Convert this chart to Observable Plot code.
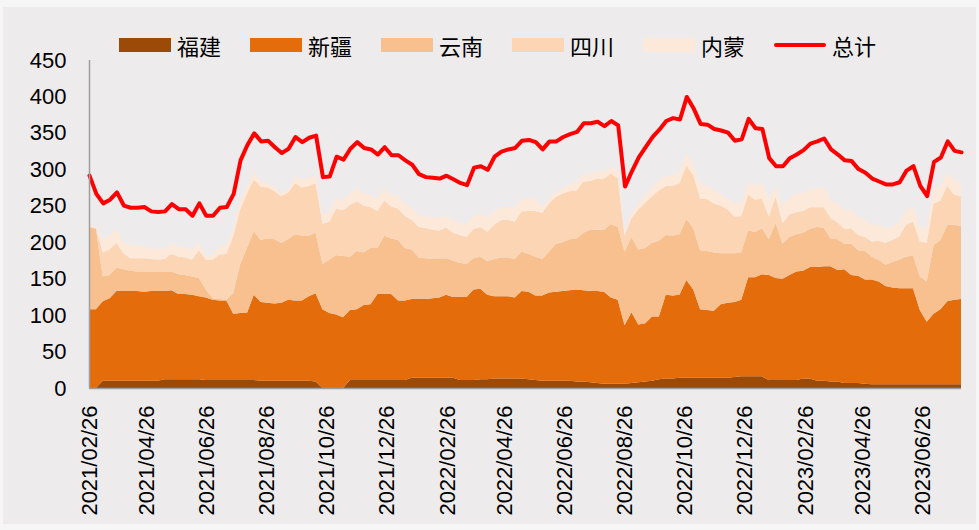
<!DOCTYPE html>
<html><head><meta charset="utf-8">
<script src="https://cdn.jsdelivr.net/npm/d3@7"></script>
<script src="https://cdn.jsdelivr.net/npm/@observablehq/plot@0.6"></script>
<style>
html,body{margin:0;padding:0;background:#f6f6f6;}
#wrap{position:relative;width:979px;height:530px;overflow:hidden;}
#panel{position:absolute;left:3px;top:7px;width:973px;height:517px;background:#edebeb;}
#legend{position:absolute;left:119px;top:32px;display:flex;align-items:center;height:26px;font-family:"Noto Sans CJK SC",sans-serif;font-size:22px;color:#000;}
.item{display:flex;align-items:center;width:131px;}
.sw{width:52px;height:14px;margin-right:6px;}
.ln{width:52px;height:4px;background:#ff0000;margin-right:6px;border-radius:2px;}
#chart{position:absolute;left:0;top:0;}
</style></head><body>
<div id="wrap"><div id="panel"></div><div id="legend"></div><div id="chart"></div></div>
<script>
const startDate = "2021/02/26";
const seriesNames = ["福建","新疆","云南","四川","内蒙"];
const seriesColors = ["#9b4a07","#e46c0a","#f9c08f","#fbd5b4","#fde9da"];
const totalName = "总计";
const tickLabels = ["2021/02/26","2021/04/26","2021/06/26","2021/08/26","2021/10/26","2021/12/26","2022/02/26","2022/04/26","2022/06/26","2022/08/26","2022/10/26","2022/12/26","2023/02/26","2023/04/26","2023/06/26"];
const yTicks = [0,50,100,150,200,250,300,350,400,450];

const fujian = [
0,0,10,10,10,10,10,10,10,10,
10,12,12,12,12,12,12,11,11,11,
11,11,11,11,11,10,10,10,10,10,
10,10,10,9,0,0,0,0,11,11,
11,11,11,11,11,11,11,14,14,14,
14,14,14,14,11,11,11,12,12,13,
13,13,13,13,12,11,10,10,10,10,
10,9,9,8,7,6,6,6,6,7,
8,9,10,12,13,13,14,14,14,14,
14,14,14,14,15,16,16,16,16,11,
11,11,11,11,13,13,10,10,9,9,
7,7,7,6,5,5,5,5,5,5,
5,5,5,5,5,5,5,5];
const xinjiang = [
108,108,109,113,123,123,123,123,122,123,
123,121,122,117,117,116,114,113,110,109,
109,91,92,92,117,108,107,106,107,111,
110,110,116,121,108,103,101,97,96,97,
103,104,118,118,118,109,109,108,108,108,
109,110,114,111,114,114,124,124,116,113,
113,113,111,120,120,116,117,121,122,123,
124,126,125,125,126,126,118,115,80,97,
79,80,88,86,115,114,114,134,121,94,
93,92,101,103,103,105,136,136,140,144,
140,139,144,149,148,153,156,157,158,153,
156,148,147,143,144,141,135,133,132,132,
132,102,86,97,103,114,116,117];
const yunnan = [
113,110,34,32,32,30,28,27,28,26,
26,27,26,27,26,25,25,11,2,2,
1,28,66,89,87,85,88,88,82,83,
91,89,83,83,62,73,81,84,73,80,
72,77,63,80,76,83,72,68,57,56,
54,53,50,50,47,45,43,44,46,51,
53,53,53,54,52,53,50,56,66,67,
70,70,79,84,84,85,101,100,101,103,
103,103,101,104,82,82,83,84,84,81,
81,80,70,68,67,65,64,62,63,49,
75,48,52,51,52,52,55,53,38,42,
35,43,35,39,31,30,29,35,39,43,
45,46,55,94,95,105,103,100];
const sichuan = [
0,2,33,35,34,22,17,18,18,18,
17,17,24,24,24,23,38,41,53,61,
63,78,75,75,71,73,70,66,64,64,
70,66,68,68,55,52,64,63,71,68,
64,56,51,48,44,43,44,41,42,41,
40,39,42,38,38,37,40,41,40,47,
51,52,51,55,59,63,63,66,64,67,
66,66,70,67,70,70,69,67,22,26,
55,62,64,69,67,68,70,73,73,71,
71,67,65,60,50,50,49,44,41,31,
36,28,31,30,30,30,27,28,28,23,
20,21,21,19,21,26,30,30,32,44,
46,48,53,57,54,53,41,41];
const neimeng = [
0,2,18,19,19,14,18,17,17,15,
14,14,14,14,14,13,10,5,7,11,
12,9,12,9,10,8,6,6,4,4,
9,11,11,10,12,14,14,13,16,18,
17,17,17,17,16,18,17,17,16,17,
17,18,16,18,17,17,18,19,20,19,
18,17,20,17,18,17,8,7,7,7,
10,12,10,10,10,10,9,10,6,7,
8,10,13,13,14,14,16,16,15,20,
18,19,16,15,18,18,16,20,21,24,
14,24,22,25,25,24,26,27,24,26,
26,25,24,24,23,22,20,18,19,19,
21,20,20,20,20,19,20,20];
const total = [
292,267,254,259,269,251,248,248,249,243,
242,243,253,246,246,237,254,237,237,248,
249,267,313,334,350,339,340,331,323,329,
345,338,344,347,290,291,318,314,329,338,
330,328,321,331,320,320,313,307,294,290,
289,288,292,287,282,279,303,305,300,318,
325,328,330,340,341,338,328,339,339,345,
349,352,364,364,366,360,367,361,277,298,
317,331,345,355,367,371,369,400,384,363,
362,356,354,351,340,342,370,357,356,316,
305,305,316,321,327,336,339,343,328,321,
313,312,301,296,288,284,280,280,283,299,
305,278,264,311,317,339,326,324];

const parse = d3.utcParse("%Y/%m/%d");
const start = parse(startDate);
const dates = total.map((_, i) => d3.utcDay.offset(start, 7 * i));
const seriesValues = [fujian, xinjiang, yunnan, sichuan, neimeng];
const rows = seriesNames.flatMap((name, k) => seriesValues[k].map((v, i) => ({date: dates[i], series: name, value: v})));
const totalRows = total.map((v, i) => ({date: dates[i], value: v}));
const tickDates = tickLabels.map(parse);

// legend
const legend = document.getElementById("legend");
seriesNames.forEach((name, k) => {
  const it = document.createElement("div"); it.className = "item";
  it.innerHTML = `<div class="sw" style="background:${seriesColors[k]}"></div><span>${name}</span>`;
  legend.appendChild(it);
});
const tl = document.createElement("div"); tl.className = "item";
tl.innerHTML = `<div class="ln"></div><span>${totalName}</span>`;
legend.appendChild(tl);

const chart = Plot.plot({
  width: 979, height: 530,
  marginTop: 60, marginBottom: 142, marginLeft: 89, marginRight: 18,
  style: {background: "transparent", fontFamily: "'Liberation Sans', Arial, sans-serif", fontSize: "22px", color: "#000", overflow: "visible"},
  x: {type: "utc", domain: [dates[0], dates[dates.length - 1]]},
  y: {domain: [0, 450]},
  color: {domain: seriesNames, range: seriesColors},
  marks: [
    Plot.areaY(rows, {x: "date", y: "value", fill: "series", order: seriesNames}),
    Plot.lineY(totalRows, {x: "date", y: "value", stroke: "#ff0000", strokeWidth: 4, strokeLinejoin: "round", strokeLinecap: "round"}),
    Plot.ruleY([0], {stroke: "#9f9f9f", strokeWidth: 1.5}),
    Plot.ruleX([dates[0]], {stroke: "#9f9f9f", strokeWidth: 1.5}),
    Plot.axisY({ticks: yTicks, tickSize: 0, tickPadding: 23, fontSize: 22, label: null}),
    Plot.axisX({ticks: tickDates, tickFormat: d3.utcFormat("%Y/%m/%d"), tickRotate: -90, tickSize: 0, tickPadding: 17, fontSize: 22, label: null})
  ]
});
document.getElementById("chart").appendChild(chart);
</script>
</body></html>
